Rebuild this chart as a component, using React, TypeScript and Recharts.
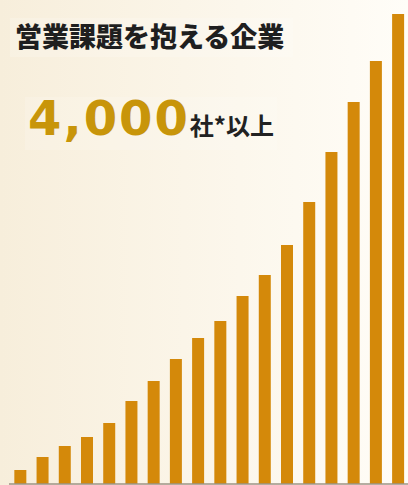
import { BarChart, Bar, XAxis, YAxis } from "recharts";

// bar heights (same units as the y domain)
const years = ["1", "2", "3", "4", "5", "6", "7", "8", "9", "10", "11", "12", "13", "14", "15", "16", "17", "18"];
const companies = [14, 27, 38, 47, 61, 83, 103, 125, 146, 163, 188, 209, 239, 282, 332, 382, 423, 470];
const maxValue = 470;

const title = "営業課題を抱える企業";
const bigNumber = "4,000";
const unit = "社*以上";

const data = years.map((y, i) => ({ year: y, value: companies[i] }));

export default function App() {
  return (
    <div
      style={{
        position: "absolute",
        top: 0,
        left: 0,
        width: 408,
        height: 485,
        overflow: "hidden",
        background: "linear-gradient(to right, #f7eedb 0%, #fbf5e8 45%, #fffdf8 100%)",
      }}
    >
      <BarChart
        width={410}
        height={485}
        data={data}
        margin={{ top: 14, right: 1, left: 9, bottom: 0 }}
        barCategoryGap="24%"
      >
        <XAxis
          dataKey="year"
          height={1}
          tick={false}
          tickLine={false}
          axisLine={{ stroke: "#9c9384", strokeWidth: 1.5 }}
        />
        <YAxis hide domain={[0, maxValue]} />
        <Bar dataKey="value" fill="#d4890a" isAnimationActive={false} />
      </BarChart>

      <div
        style={{
          position: "absolute",
          left: 10,
          top: 18,
          width: 283,
          height: 39,
          background: "rgba(255,255,255,0.18)",
        }}
      />
      <div
        style={{
          position: "absolute",
          left: 25,
          top: 97,
          width: 252,
          height: 53,
          background: "rgba(255,255,255,0.15)",
        }}
      />
      <div
        style={{
          position: "absolute",
          left: 15,
          top: 22,
          fontFamily: "'Noto Sans CJK JP', sans-serif",
          fontWeight: 900,
          fontSize: 27,
          lineHeight: "27px",
          color: "#1f1f1f",
          whiteSpace: "nowrap",
        }}
      >
        {title}
      </div>
      <div
        style={{
          position: "absolute",
          left: 28,
          top: 94,
          lineHeight: 1,
          whiteSpace: "nowrap",
        }}
      >
        <span
          style={{
            fontFamily: "'DejaVu Sans', sans-serif",
            fontWeight: 700,
            fontSize: 48,
            letterSpacing: 2,
            color: "#c8950a",
          }}
        >
          {bigNumber}
        </span>
        <span
          style={{
            fontFamily: "'Noto Sans CJK JP', sans-serif",
            fontWeight: 700,
            fontSize: 24,
            color: "#222",
          }}
        >
          {unit}
        </span>
      </div>
    </div>
  );
}
